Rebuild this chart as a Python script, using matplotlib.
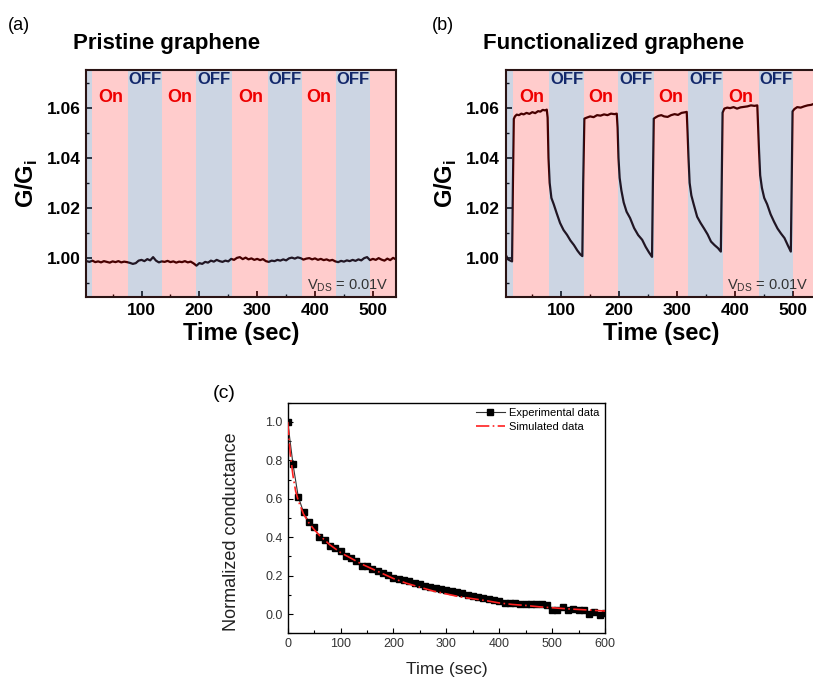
import numpy as np
import matplotlib
matplotlib.use('Agg')
import matplotlib.pyplot as plt
from matplotlib.ticker import MultipleLocator

plt.rcParams['font.family'] = ['Liberation Sans', 'DejaVu Sans']
plt.rcParams['mathtext.fontset'] = 'custom'
plt.rcParams['mathtext.rm'] = 'Liberation Sans'
plt.rcParams['mathtext.bf'] = 'Liberation Sans:bold'

# ---- panel (a): pristine graphene, G/Gi vs time
time_a = list(range(5, 545, 5))
g_a = [0.9988, 0.9985, 0.9990, 0.9984, 0.9987, 0.9983, 0.9988, 0.9985, 0.9982, 0.9987,
       0.9984, 0.9988, 0.9983, 0.9986, 0.9984, 0.9981, 0.9977, 0.9980, 0.9990, 0.9993,
       0.9988, 0.9996, 0.9991, 1.0004, 0.9990, 0.9983, 0.9987, 0.9985, 0.9989, 0.9984,
       0.9987, 0.9982, 0.9986, 0.9984, 0.9988, 0.9983, 0.9986, 0.9979, 0.9970, 0.9980,
       0.9977, 0.9985, 0.9982, 0.9990, 0.9986, 0.9993, 0.9988, 0.9985, 0.9990, 0.9987,
       0.9997, 0.9993, 1.0001, 1.0004, 0.9996, 1.0002, 0.9995, 0.9999, 0.9993, 0.9997,
       0.9992, 0.9996, 0.9988, 0.9985, 0.9990, 0.9988, 0.9993, 0.9990, 0.9995, 0.9991,
       0.9999, 1.0002, 0.9998, 1.0003, 1.0000, 0.9994, 0.9998, 1.0000, 0.9995, 0.9999,
       0.9993, 0.9997, 0.9992, 0.9995, 0.9990, 0.9993, 0.9987, 0.9984, 0.9989, 0.9986,
       0.9991, 0.9988, 0.9993, 0.9989, 0.9995, 0.9991, 1.0000, 1.0004, 0.9992, 0.9997,
       0.9993, 1.0000, 0.9994, 0.9990, 0.9998, 0.9992, 1.0001, 0.9995]

# ---- panel (b): functionalized graphene
time_b = [4, 8, 12, 15, 16.5, 18, 20, 23, 27, 31, 35, 40, 45, 50, 55, 60, 64, 68, 72, 75,
          76.5, 78, 80, 83, 87, 92, 98, 104, 110, 116, 122, 128, 133, 136.5,
          138, 140, 144, 150, 156, 162, 168, 174, 180, 186, 192, 196,
          197.5, 199, 201, 204, 208, 213, 219, 226, 233, 240, 246, 252, 257,
          258.5, 260, 264, 268, 273, 278, 284, 290, 296, 302, 308, 313, 317,
          318.5, 320, 322, 325, 329, 335, 341, 347, 353, 359, 365, 371, 376,
          377.5, 379, 382, 387, 392, 398, 404, 410, 416, 422, 428, 434, 439,
          440.5, 442, 444, 447, 451, 456, 462, 468, 474, 480, 486, 492, 497,
          498.5, 500, 503, 508, 514, 520, 526, 532, 538]
g_b = [1.0013, 0.9995, 0.9990, 0.9987, 1.0300, 1.0555, 1.0565, 1.0572, 1.0570, 1.0576,
       1.0573, 1.0579, 1.0575, 1.0582, 1.0578, 1.0586, 1.0584, 1.0591, 1.0589, 1.0592,
       1.0560, 1.0400, 1.0300, 1.0240, 1.0215, 1.0180, 1.0140, 1.0112, 1.0093, 1.0070,
       1.0052, 1.0030, 1.0015, 1.0008,
       1.0300, 1.0556, 1.0560, 1.0565, 1.0562, 1.0570, 1.0568, 1.0573, 1.0570, 1.0576,
       1.0574, 1.0576,
       1.0520, 1.0400, 1.0320, 1.0270, 1.0222, 1.0185, 1.0160, 1.0120, 1.0092, 1.0073,
       1.0045, 1.0022, 1.0005,
       1.0300, 1.0556, 1.0562, 1.0567, 1.0570, 1.0565, 1.0563, 1.0570, 1.0574, 1.0571,
       1.0579, 1.0581, 1.0583,
       1.0500, 1.0404, 1.0300, 1.0250, 1.0215, 1.0165, 1.0140, 1.0118, 1.0095, 1.0066,
       1.0052, 1.0040, 1.0026,
       1.0300, 1.0580, 1.0596, 1.0600, 1.0598, 1.0602, 1.0596, 1.0601, 1.0603, 1.0605,
       1.0609, 1.0607, 1.0609,
       1.0520, 1.0430, 1.0330, 1.0280, 1.0240, 1.0215, 1.0175, 1.0145, 1.0118, 1.0098,
       1.0080, 1.0050, 1.0026,
       1.0300, 1.0585, 1.0594, 1.0602, 1.0600, 1.0605, 1.0609, 1.0611, 1.0616]

# light on/off switching times (sec): on, off, on, off, ...
switch_a = [15, 77, 136, 195, 257, 319, 377, 436, 495]
switch_b = [17, 79.6, 139, 198.6, 260, 318.6, 380.5, 442, 500]

# ---- panel (c): normalized conductance decay
time_exp = list(range(0, 610, 10))
cond_exp = [1.0, 0.78, 0.61, 0.53, 0.48, 0.455, 0.40, 0.385, 0.355, 0.345,
            0.33, 0.30, 0.29, 0.275, 0.25, 0.25, 0.235, 0.225, 0.215, 0.205,
            0.19, 0.185, 0.175, 0.17, 0.16, 0.155, 0.145, 0.14, 0.135, 0.13,
            0.125, 0.12, 0.115, 0.11, 0.10, 0.095, 0.09, 0.085, 0.08, 0.075,
            0.07, 0.06, 0.06, 0.06, 0.055, 0.055, 0.05, 0.05, 0.05, 0.045,
            0.02, 0.02, 0.035, 0.02, 0.025, 0.02, 0.02, 0.0, 0.01, -0.005, 0.005]
time_sim = [0, 5, 10, 15, 20, 30, 40, 50, 60, 70, 80, 90, 100, 120, 140, 160, 180, 200,
            225, 250, 275, 300, 325, 350, 375, 400, 425, 450, 475, 500, 525, 550, 575, 600]
cond_sim = [1.0, 0.83, 0.72, 0.64, 0.59, 0.52, 0.475, 0.44, 0.41, 0.385, 0.36, 0.34, 0.32,
            0.29, 0.26, 0.235, 0.21, 0.185, 0.16, 0.14, 0.12, 0.105, 0.09, 0.08, 0.07,
            0.058, 0.05, 0.045, 0.038, 0.033, 0.028, 0.024, 0.02, 0.016]

W, H = 813, 679
fig = plt.figure(figsize=(W / 100, H / 100), dpi=100)


def box(x0, y0, x1, y1):
    return [x0 / W, 1 - y1 / H, (x1 - x0) / W, (y1 - y0) / H]


pink = '#ff0000'
blue = '#375b93'


def switching_panel(ax, t, g, edges):
    ax.plot(t, g, color='#1a0000', lw=1.6, zorder=2)
    xmin, xmax = 4, 540
    bounds = [xmin] + edges + [xmax + 20]
    for i in range(len(bounds) - 1):
        c = blue if i % 2 == 0 else pink
        a = 0.25 if i % 2 == 0 else 0.2
        ax.axvspan(bounds[i], bounds[i + 1], color=c, alpha=a, lw=0, zorder=2.2)
    for i in range(len(edges) - 1):
        mid = 0.5 * (edges[i] + edges[i + 1])
        if i % 2 == 0:
            ax.text(mid, 1.0642, 'On', color='#ee0000', fontsize=13, fontweight='bold',
                    ha='center', va='center', zorder=4)
        else:
            ax.text(mid, 1.0714, 'OFF', color='#13286b', fontsize=12, fontweight='bold',
                    ha='center', va='center', zorder=4)
    ax.set_xlim(xmin, xmax)
    ax.set_ylim(0.9845, 1.075)
    ax.xaxis.set_major_locator(MultipleLocator(100))
    ax.xaxis.set_minor_locator(MultipleLocator(50))
    ax.yaxis.set_major_locator(MultipleLocator(0.02))
    ax.yaxis.set_minor_locator(MultipleLocator(0.01))
    ax.yaxis.set_major_formatter(plt.FormatStrFormatter('%.2f'))
    ax.tick_params(which='both', direction='in', top=False, right=False)
    ax.tick_params(which='major', length=4, width=1.2, labelsize=12.5, pad=4)
    ax.tick_params(which='minor', length=2.5, width=1)
    for lab in ax.get_xticklabels() + ax.get_yticklabels():
        lab.set_fontweight('bold')
    for s in ax.spines.values():
        s.set_linewidth(1.5)
        s.set_color('#2a1414')
    ax.set_xlabel('Time (sec)', fontsize=17, fontweight='bold', labelpad=3)
    ax.set_ylabel(r'G/G$_{\mathbf{i}}$', fontsize=17, fontweight='bold', labelpad=5)
    ax.text(0.975, 0.05, r'V$_{\mathrm{DS}}$ = 0.01V', transform=ax.transAxes,
            ha='right', va='center', fontsize=10.5, color='#333333', zorder=4)


ax_a = fig.add_axes(box(86, 70, 396, 297))
switching_panel(ax_a, time_a, g_a, switch_a)
fig.text(8 / W, 1 - 25 / H, '(a)', fontsize=13, va='center', ha='left')
fig.text(73 / W, 1 - 43 / H, 'Pristine graphene', fontsize=16, fontweight='bold',
         va='center', ha='left')

ax_b = fig.add_axes(box(505.7, 70, 815.7, 297))
switching_panel(ax_b, time_b, g_b, switch_b)
fig.text(432 / W, 1 - 25 / H, '(b)', fontsize=13, va='center', ha='left')
fig.text(483 / W, 1 - 43 / H, 'Functionalized graphene', fontsize=16, fontweight='bold',
         va='center', ha='left')

# ---- panel (c)
ax_c = fig.add_axes(box(287.7, 402.7, 605, 633.3))
ax_c.plot(time_exp, cond_exp, color='#333333', lw=0.8, marker='s', markersize=4,
          markerfacecolor='black', markeredgecolor='black', label='Experimental data',
          zorder=2)
ax_c.plot(time_sim, cond_sim, color='#ff2020', lw=1.2, linestyle=(0, (8, 2, 1, 2)),
          label='Simulated data', zorder=3)
ax_c.set_xlim(0, 600)
ax_c.set_ylim(-0.1, 1.1)
ax_c.xaxis.set_major_locator(MultipleLocator(100))
ax_c.xaxis.set_minor_locator(MultipleLocator(50))
ax_c.yaxis.set_minor_locator(MultipleLocator(0.1))
ax_c.set_yticks([0.0, 0.2, 0.4, 0.6, 0.8, 1.0])
ax_c.yaxis.set_major_formatter(plt.FormatStrFormatter('%.1f'))
ax_c.tick_params(which='both', direction='in', top=False, right=False)
ax_c.tick_params(which='major', length=3.5, width=0.8, labelsize=9, labelcolor='#333333')
ax_c.tick_params(which='minor', length=2, width=0.8)
for s in ax_c.spines.values():
    s.set_linewidth(1.0)
ax_c.set_xlabel('Time (sec)', fontsize=12.5, color='#222222')
ax_c.xaxis.set_label_coords(0.5, -0.125)
ax_c.set_ylabel('Normalized conductance', fontsize=13, color='#222222')
ax_c.yaxis.set_label_coords(-0.15, 0.44)
ax_c.legend(loc='upper right', frameon=False, fontsize=8, handlelength=2.6,
            borderaxespad=0.1, labelspacing=0.3, handletextpad=0.4)
fig.text(213 / W, 1 - 393 / H, '(c)', fontsize=14, va='center', ha='left')

fig.savefig('out.png', dpi=100)
